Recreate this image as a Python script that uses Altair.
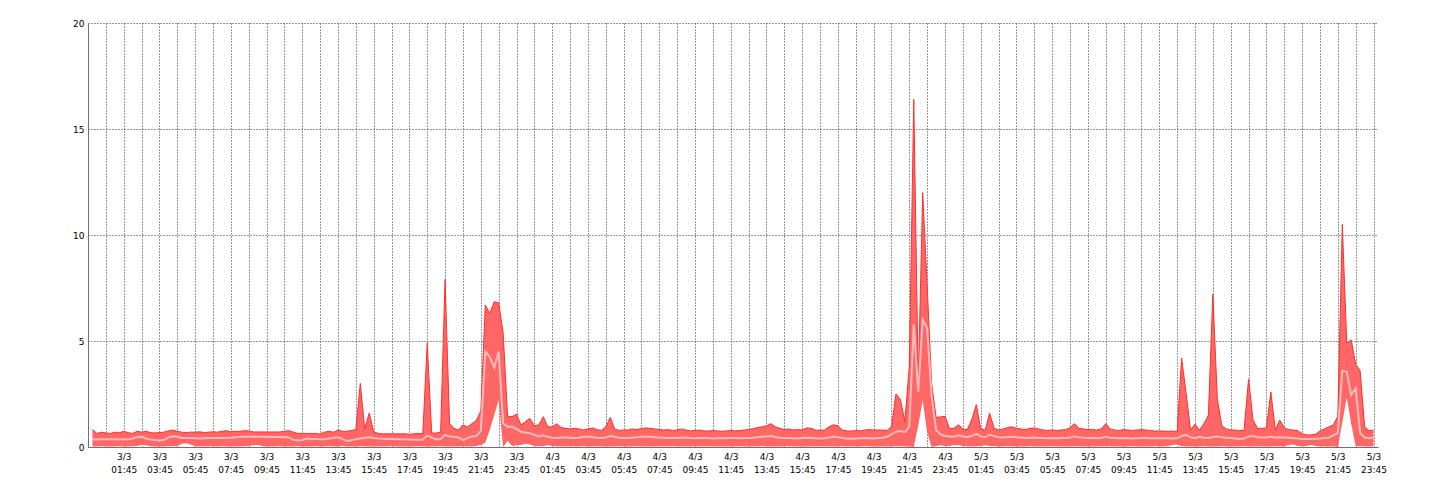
import altair as alt
import pandas as pd

# 15-minute samples, hours since 3/3 00:00 (0 .. 71.75)
hours = [i / 4 for i in range(288)]

max_vals = [
    0.82, 0.64, 0.70, 0.66, 0.64, 0.70, 0.67, 0.74, 0.68, 0.64, 0.74, 0.70, 0.74, 0.68, 0.66, 0.68,
    0.70, 0.76, 0.80, 0.74, 0.70, 0.68, 0.70, 0.70, 0.72, 0.68, 0.70, 0.72, 0.70, 0.74, 0.77, 0.72,
    0.74, 0.74, 0.77, 0.76, 0.71, 0.71, 0.71, 0.71, 0.71, 0.71, 0.71, 0.74, 0.77, 0.70, 0.64, 0.64,
    0.64, 0.64, 0.64, 0.61, 0.70, 0.74, 0.70, 0.80, 0.74, 0.74, 0.78, 0.82, 3.00, 0.85, 1.60, 0.72,
    0.64, 0.62, 0.62, 0.62, 0.62, 0.62, 0.62, 0.60, 0.62, 0.64, 0.62, 4.90, 0.66, 0.66, 0.70, 7.90,
    1.10, 0.88, 0.80, 1.04, 0.95, 1.10, 1.25, 1.70, 6.70, 6.30, 6.85, 6.80, 5.40, 1.45, 1.43, 1.55,
    1.04, 1.20, 1.35, 1.00, 1.05, 1.43, 0.95, 0.95, 1.10, 0.92, 0.88, 0.85, 0.88, 0.85, 0.80, 0.85,
    0.90, 0.82, 0.78, 0.95, 1.40, 0.85, 0.78, 0.80, 0.80, 0.85, 0.82, 0.88, 0.90, 0.88, 0.85, 0.82,
    0.80, 0.82, 0.78, 0.80, 0.85, 0.80, 0.76, 0.78, 0.80, 0.76, 0.75, 0.78, 0.76, 0.74, 0.76, 0.78,
    0.76, 0.78, 0.80, 0.82, 0.86, 0.92, 0.95, 1.00, 1.10, 0.95, 0.88, 0.82, 0.85, 0.80, 0.82, 0.80,
    0.90, 0.88, 0.80, 0.78, 0.80, 0.95, 1.05, 1.00, 0.80, 0.76, 0.75, 0.78, 0.76, 0.80, 0.82, 0.80,
    0.80, 0.80, 0.78, 0.95, 2.50, 2.25, 1.20, 3.80, 16.40, 3.00, 12.00, 7.60, 3.00, 1.40, 1.42, 1.45,
    0.88, 0.88, 1.05, 0.85, 0.82, 1.30, 2.00, 0.85, 0.80, 1.60, 0.88, 0.80, 0.85, 0.92, 0.95, 0.88,
    0.85, 0.82, 0.88, 0.90, 0.85, 0.80, 0.78, 0.80, 0.78, 0.80, 0.82, 0.90, 1.10, 0.88, 0.85, 0.82,
    0.82, 0.80, 0.85, 1.10, 0.85, 0.80, 0.78, 0.82, 0.80, 0.78, 0.80, 0.82, 0.80, 0.78, 0.75, 0.76,
    0.75, 0.74, 0.75, 0.72, 4.20, 2.55, 0.80, 1.08, 0.80, 1.10, 1.50, 7.20, 2.30, 1.00, 0.85, 0.80,
    0.80, 0.77, 0.80, 3.20, 1.27, 0.88, 0.88, 0.90, 2.60, 0.80, 1.27, 0.90, 0.82, 0.80, 0.77, 0.62,
    0.57, 0.57, 0.60, 0.75, 0.85, 0.95, 1.05, 1.45, 10.50, 4.90, 5.05, 3.90, 3.60, 0.95, 0.77, 0.80,
]

mean_vals = [
    0.36, 0.35, 0.36, 0.36, 0.37, 0.36, 0.35, 0.36, 0.36, 0.40, 0.47, 0.48, 0.40, 0.36, 0.33, 0.31,
    0.33, 0.45, 0.51, 0.48, 0.43, 0.42, 0.42, 0.41, 0.40, 0.41, 0.42, 0.42, 0.43, 0.42, 0.42, 0.44,
    0.46, 0.47, 0.48, 0.48, 0.49, 0.48, 0.48, 0.47, 0.48, 0.47, 0.47, 0.46, 0.45, 0.34, 0.31, 0.33,
    0.40, 0.38, 0.38, 0.37, 0.36, 0.40, 0.44, 0.46, 0.38, 0.28, 0.32, 0.36, 0.40, 0.44, 0.46, 0.42,
    0.40, 0.39, 0.38, 0.38, 0.37, 0.36, 0.36, 0.35, 0.34, 0.34, 0.35, 0.55, 0.45, 0.36, 0.38, 0.57,
    0.50, 0.48, 0.45, 0.32, 0.42, 0.50, 0.52, 0.75, 4.50, 4.25, 3.75, 4.50, 1.10, 0.96, 0.95, 0.85,
    0.72, 0.68, 0.65, 0.58, 0.50, 0.55, 0.48, 0.44, 0.42, 0.45, 0.46, 0.44, 0.42, 0.44, 0.48, 0.50,
    0.46, 0.44, 0.43, 0.45, 0.52, 0.48, 0.44, 0.42, 0.43, 0.45, 0.46, 0.48, 0.50, 0.48, 0.46, 0.45,
    0.44, 0.43, 0.42, 0.43, 0.45, 0.44, 0.42, 0.41, 0.42, 0.43, 0.42, 0.40, 0.41, 0.42, 0.41, 0.42,
    0.42, 0.41, 0.42, 0.43, 0.44, 0.46, 0.48, 0.50, 0.52, 0.47, 0.44, 0.42, 0.43, 0.41, 0.40, 0.42,
    0.44, 0.43, 0.41, 0.40, 0.41, 0.45, 0.48, 0.46, 0.42, 0.40, 0.39, 0.40, 0.41, 0.42, 0.41, 0.40,
    0.42, 0.44, 0.48, 0.60, 0.72, 0.75, 0.70, 0.96, 5.80, 2.60, 6.00, 5.60, 2.40, 0.80, 0.60, 0.52,
    0.50, 0.48, 0.55, 0.50, 0.47, 0.52, 0.62, 0.50, 0.46, 0.58, 0.52, 0.46, 0.45, 0.47, 0.48, 0.46,
    0.45, 0.43, 0.44, 0.45, 0.43, 0.42, 0.41, 0.42, 0.41, 0.42, 0.43, 0.45, 0.50, 0.46, 0.44, 0.43,
    0.42, 0.41, 0.43, 0.48, 0.44, 0.42, 0.41, 0.42, 0.41, 0.40, 0.41, 0.42, 0.42, 0.41, 0.41, 0.41,
    0.41, 0.41, 0.40, 0.41, 0.52, 0.57, 0.46, 0.41, 0.48, 0.44, 0.42, 0.47, 0.50, 0.46, 0.44, 0.42,
    0.40, 0.38, 0.40, 0.50, 0.52, 0.46, 0.45, 0.45, 0.48, 0.45, 0.46, 0.45, 0.44, 0.42, 0.40, 0.38,
    0.38, 0.38, 0.39, 0.40, 0.42, 0.44, 0.55, 0.65, 3.60, 3.55, 2.45, 2.77, 0.65, 0.45, 0.41, 0.44,
]

min_vals = [
    0.02, 0.02, 0.03, 0.02, 0.02, 0.02, 0.03, 0.02, 0.02, 0.03, 0.05, 0.10, 0.08, 0.03, 0.02, 0.02,
    0.02, 0.03, 0.03, 0.05, 0.15, 0.18, 0.12, 0.03, 0.02, 0.02, 0.03, 0.02, 0.02, 0.03, 0.02, 0.02,
    0.02, 0.02, 0.03, 0.05, 0.08, 0.10, 0.05, 0.02, 0.02, 0.02, 0.03, 0.02, 0.02, 0.02, 0.03, 0.02,
    0.02, 0.02, 0.03, 0.02, 0.02, 0.03, 0.02, 0.02, 0.05, 0.02, 0.02, 0.02, 0.03, 0.02, 0.02, 0.02,
    0.02, 0.02, 0.02, 0.03, 0.02, 0.02, 0.02, 0.02, 0.02, 0.03, 0.02, 0.02, 0.02, 0.02, 0.03, 0.02,
    0.02, 0.02, 0.02, 0.03, 0.02, 0.02, 0.05, 0.10, 0.20, 0.80, 1.50, 2.20, 0.00, 0.30, 0.05, 0.08,
    0.10, 0.15, 0.12, 0.05, 0.03, 0.05, 0.10, 0.05, 0.03, 0.02, 0.02, 0.03, 0.02, 0.02, 0.03, 0.02,
    0.02, 0.03, 0.02, 0.02, 0.02, 0.02, 0.03, 0.02, 0.02, 0.02, 0.03, 0.02, 0.02, 0.02, 0.02, 0.03,
    0.02, 0.02, 0.03, 0.02, 0.02, 0.02, 0.02, 0.03, 0.02, 0.02, 0.02, 0.03, 0.02, 0.02, 0.02, 0.02,
    0.02, 0.03, 0.02, 0.02, 0.02, 0.02, 0.03, 0.02, 0.02, 0.02, 0.02, 0.02, 0.03, 0.02, 0.02, 0.02,
    0.02, 0.02, 0.02, 0.03, 0.02, 0.02, 0.02, 0.02, 0.03, 0.02, 0.02, 0.02, 0.02, 0.03, 0.02, 0.02,
    0.02, 0.02, 0.02, 0.02, 0.03, 0.03, 0.02, 0.02, 0.00, 1.00, 2.20, 0.70, 0.00, 0.05, 0.08, 0.05,
    0.05, 0.10, 0.08, 0.05, 0.03, 0.02, 0.03, 0.05, 0.08, 0.05, 0.03, 0.02, 0.02, 0.03, 0.02, 0.02,
    0.02, 0.02, 0.03, 0.02, 0.02, 0.02, 0.02, 0.03, 0.02, 0.02, 0.02, 0.02, 0.03, 0.02, 0.02, 0.02,
    0.02, 0.02, 0.02, 0.03, 0.02, 0.02, 0.02, 0.02, 0.02, 0.03, 0.02, 0.02, 0.02, 0.02, 0.03, 0.02,
    0.02, 0.05, 0.10, 0.12, 0.03, 0.02, 0.02, 0.02, 0.02, 0.03, 0.02, 0.02, 0.02, 0.03, 0.02, 0.02,
    0.02, 0.02, 0.03, 0.02, 0.02, 0.02, 0.02, 0.02, 0.02, 0.03, 0.02, 0.02, 0.10, 0.12, 0.05, 0.03,
    0.05, 0.10, 0.05, 0.03, 0.02, 0.02, 0.02, 0.00, 1.15, 2.35, 1.10, 0.05, 0.03, 0.02, 0.02, 0.03,
]

y_ticks = [0, 5, 10, 15, 20]

# hourly gridlines at hh:45 (hours since 3/3 00:00); labels on odd hours
x_ticks = [0.75 + k for k in range(72)]
x_domain = [-0.25, 72]

label_expr = (
    "floor(datum.value) % 2 == 1 ? "
    "[(3 + floor(datum.value / 24)) + '/3', "
    "(floor(datum.value) % 24 < 10 ? '0' : '') + (floor(datum.value) % 24) + ':45'] : ''"
)

df = pd.DataFrame({"hour": hours, "max": max_vals, "mean": mean_vals, "min": min_vals})

x_enc = alt.X(
    "hour:Q",
    scale=alt.Scale(domain=x_domain, nice=False, zero=False),
    axis=alt.Axis(
        values=x_ticks,
        tickCount=500,
        title=None,
        grid=True,
        ticks=False,
        labelExpr=label_expr,
        labelAlign="center",
        labelBaseline="top",
        labelLineHeight=13,
        labelPadding=5,
        labelOverlap=False,
        labelFlush=False,
        labelBound=False,
    ),
)

y_scale = alt.Scale(domain=[0, 20], nice=False)
y_axis = alt.Axis(values=y_ticks, title=None, grid=True, ticks=False, labelPadding=4)

band = alt.Chart(df).mark_area(color="#ff6666", opacity=1, interpolate="linear").encode(
    x=x_enc,
    y=alt.Y("max:Q", scale=y_scale, axis=y_axis),
    y2="min:Q",
)

max_line = alt.Chart(df).mark_line(color="#ff3030", strokeWidth=1).encode(
    x="hour:Q", y="max:Q"
)

mean_line = alt.Chart(df).mark_line(color="#ffbaba", strokeWidth=2).encode(
    x="hour:Q", y="mean:Q"
)

chart = (
    alt.layer(band, max_line, mean_line)
    .properties(
        width=1290,
        height=424,
        autosize=alt.AutoSizeParams(type="none"),
        padding={"left": 80, "top": 15, "right": 40, "bottom": 40},
        background="#ffffff",
    )
    .configure_view(strokeWidth=0)
    .configure_axis(
        labelFont="DejaVu Sans",
        labelFontSize=9,
        labelColor="#000000",
        domainColor="#707070",
        domainWidth=1,
        gridColor="#333333",
        gridDash=[1, 2],
        gridWidth=1,
        gridOpacity=1,
    )
)

chart.save("out.html", embed_options={"renderer": "svg", "actions": False})
